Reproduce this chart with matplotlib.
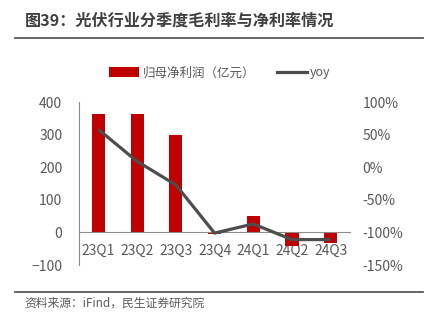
import matplotlib
matplotlib.use('Agg')
import matplotlib.pyplot as plt
from matplotlib.lines import Line2D
from matplotlib.patches import Patch
from matplotlib.ticker import FuncFormatter

plt.rcParams['font.family'] = ['Noto Sans CJK SC', 'DejaVu Sans']

quarters = ['23Q1', '23Q2', '23Q3', '23Q4', '24Q1', '24Q2', '24Q3']
net_profit = [363, 363, 300, -5, 51, -41, -33]      # 亿元
yoy = [58, 9, -27, -101, -87, -111, -111]           # %

bar_color = '#C00000'
line_color = '#4D4D4D'
text_color = '#595959'

fig = plt.figure(figsize=(4.27, 3.24), dpi=100)
ax = fig.add_axes([0.185, 0.182, 0.635, 0.503])

x = range(len(quarters))
ax.bar(x, net_profit, width=0.34, color=bar_color, zorder=2)
ax.set_xlim(-0.5, len(quarters) - 0.5)
ax.set_ylim(-100, 400)
ax.set_yticks([-100, 0, 100, 200, 300, 400])
ax.set_xticks(list(x))
ax.set_xticklabels(quarters)

for s in ['top', 'right']:
    ax.spines[s].set_visible(False)
ax.spines['bottom'].set_position(('data', 0))
ax.spines['bottom'].set_color('#8C8C8C')
ax.spines['left'].set_color('#8C8C8C')
ax.tick_params(axis='y', length=0, pad=12, labelsize=10, labelcolor=text_color)
ax.tick_params(axis='x', length=0, pad=8, labelsize=10, labelcolor=text_color)

ax2 = ax.twinx()
ax2.plot(list(x), yoy, color=line_color, linewidth=2.3, solid_capstyle='butt')
ax2.set_ylim(-150, 100)
ax2.set_yticks([-150, -100, -50, 0, 50, 100])
ax2.yaxis.set_major_formatter(FuncFormatter(lambda v, p: '%d%%' % v))
for s in ax2.spines.values():
    s.set_visible(False)
ax2.tick_params(axis='y', length=0, pad=9, labelsize=10, labelcolor=text_color)

handles = [Patch(facecolor=bar_color, edgecolor='none'),
           Line2D([0], [0], color=line_color, linewidth=2.3)]
fig.legend(handles, ['归母净利润（亿元）', 'yoy'], loc='center',
           bbox_to_anchor=(0.515, 0.775), ncol=2, frameon=False,
           fontsize=9, handlelength=2.4, handleheight=0.9,
           handletextpad=0.3, columnspacing=1.7, labelcolor=text_color)

fig.text(0.058, 0.935, '图39：光伏行业分季度毛利率与净利率情况', fontsize=11.6,
         fontweight='bold', color='#404040', va='center')
fig.add_artist(Line2D([0.035, 0.99], [0.883, 0.883], color='#595959', linewidth=1.3))
fig.add_artist(Line2D([0.035, 0.99], [0.099, 0.099], color='#595959', linewidth=1.3))
fig.text(0.058, 0.065, '资料来源：iFind，民生证券研究院', fontsize=8.5,
         color=text_color, va='center')

fig.savefig('out.png', dpi=100)
